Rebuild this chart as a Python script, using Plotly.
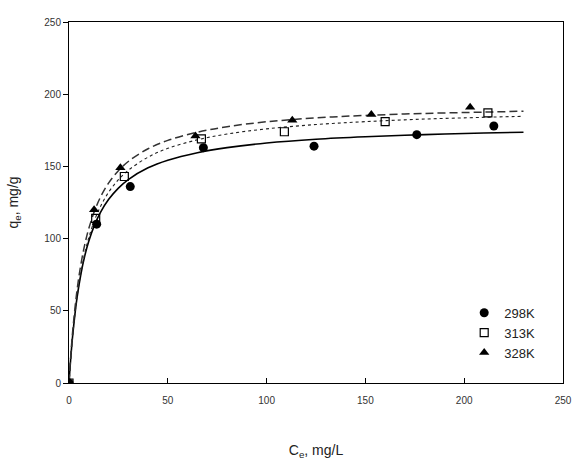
import plotly.graph_objects as go

# Measured data points
ce_298 = [0, 14, 31, 68, 124, 176, 215]
qe_298 = [0, 110, 136, 163, 164, 172, 178]
ce_313 = [0, 13.5, 28, 67, 109, 160, 212]
qe_313 = [0, 114, 143, 169, 174, 181, 187]
ce_328 = [0, 12.7, 26, 64, 113, 153, 203]
qe_328 = [0, 120, 149, 171, 182, 186, 191]

# Fitted curves
c_fit = [0, 1, 2, 4, 6, 8, 10, 13, 16, 20, 25, 30, 40, 50, 65, 80, 100, 125, 150, 180, 210, 230]
fit_298 = [0, 19.3, 34.8, 58.4, 75.3, 88.2, 98.2, 109.7, 118.4, 127.1, 135, 140.9, 149, 154.3,
           159.5, 163, 166.2, 168.8, 170.5, 172, 173.1, 173.7]
fit_313 = [0, 19.0, 34.6, 58.7, 76.3, 89.9, 100.6, 113, 122.4, 132, 140.8, 147.3, 156.4, 162.5,
           168.4, 172.4, 176, 179, 181, 182.8, 184, 184.7]
fit_328 = [0, 21, 37.9, 63.6, 82, 96, 106.9, 119.4, 128.9, 138.4, 147, 153.4, 162.2, 168,
           173.7, 177.5, 180.9, 183.6, 185.3, 186.7, 187.6, 188.2]

labels = ["298K", "313K", "328K"]
x_ticks = [0, 50, 100, 150, 200, 250]
y_ticks = [0, 50, 100, 150, 200, 250]

fig = go.Figure()

fig.add_trace(go.Scatter(x=c_fit, y=fit_298, mode="lines", line=dict(color="black", width=1.6),
                         line_shape="spline", showlegend=False, hoverinfo="skip"))
fig.add_trace(go.Scatter(x=c_fit, y=fit_313, mode="lines", line=dict(color="#222", width=1.1, dash="dot"),
                         line_shape="spline", showlegend=False, hoverinfo="skip"))
fig.add_trace(go.Scatter(x=c_fit, y=fit_328, mode="lines", line=dict(color="#333", width=1.5, dash="8px,4px"),
                         line_shape="spline", showlegend=False, hoverinfo="skip"))

fig.add_trace(go.Scatter(x=ce_298, y=qe_298, mode="markers", name=labels[0],
                         marker=dict(symbol="circle", size=9, color="black")))
fig.add_trace(go.Scatter(x=ce_313, y=qe_313, mode="markers", name=labels[1],
                         marker=dict(symbol="square-open", size=8, color="black", line=dict(width=1.2))))
fig.add_trace(go.Scatter(x=ce_328, y=qe_328, mode="markers", name=labels[2],
                         marker=dict(symbol="triangle-up", size=9, color="black")))

fig.update_layout(
    width=576, height=460,
    margin=dict(l=69, r=13, t=22, b=77),
    plot_bgcolor="white", paper_bgcolor="white",
    font=dict(family="Liberation Sans, Arial, sans-serif", color="#222"),
    showlegend=True,
    legend=dict(x=0.8, y=0.236, xanchor="left", yanchor="top", bgcolor="rgba(0,0,0,0)",
                font=dict(size=13, color="#222"), itemwidth=30, tracegroupgap=0),
)
fig.update_xaxes(range=[0, 250], tickvals=x_ticks, ticks="inside", ticklen=5, tickcolor="black",
                 showline=True, linecolor="black", linewidth=1, mirror=True, showgrid=False,
                 zeroline=False, tickfont=dict(size=10, color="#333"), ticklabelstandoff=8,
                 automargin=False,
                 title=dict(text="C<sub>e</sub>, mg/L", font=dict(size=14, color="#222"), standoff=50))
fig.update_yaxes(range=[0, 250], tickvals=y_ticks, ticks="outside", ticklen=5, tickcolor="black",
                 showline=True, linecolor="black", linewidth=1, mirror=True, showgrid=False,
                 zeroline=False, tickfont=dict(size=10, color="#333"), automargin=False,
                 title=dict(text="q<sub>e</sub>, mg/g", font=dict(size=14, color="#222"), standoff=22))

fig.write_html("out.html")
